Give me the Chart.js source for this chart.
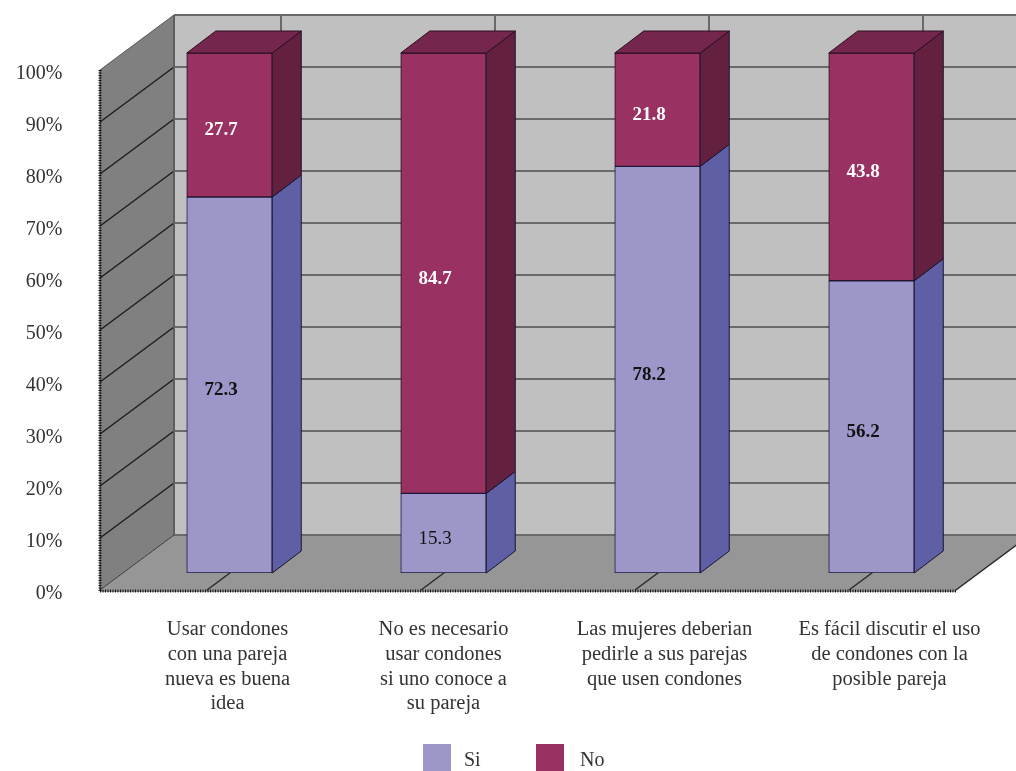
<!DOCTYPE html>
<html>
<head>
<meta charset="utf-8">
<title>Condones</title>
<script src="https://cdn.jsdelivr.net/npm/chart.js@4"></script>
<style>
  body { margin: 0; background: #fff; }
  canvas { display: block; }
</style>
</head>
<body>
<canvas id="chart" width="1016" height="771"></canvas>
<script>
var categories = [
  ["Usar condones", "con una pareja", "nueva es buena", "idea"],
  ["No es necesario", "usar condones", "si uno conoce a", "su pareja"],
  ["Las mujeres deberian", "pedirle a sus parejas", "que usen condones"],
  ["Es fácil discutir el uso", "de condones con la", "posible pareja"]
];
var si = [72.3, 15.3, 78.2, 56.2];
var no = [27.7, 84.7, 21.8, 43.8];
var yTicks = ["0%", "10%", "20%", "30%", "40%", "50%", "60%", "70%", "80%", "90%", "100%"];

// colours per series: front, side, top
var siColors = ["#9C97C8", "#5F5FA6", "#7C7AB8"];
var noColors = ["#993163", "#63203F", "#75264C"];

// the box is drawn on the bars' plane, the walls sit around it
var wallFront = { x: -22.5, y: 17 };
var wallBack = { x: 51.5, y: -38 };
var barDepth = { x: 29, y: -22 };
var labelShift = [-2, 0, 7, 18];
var serif = "'Liberation Serif', serif";

function poly(ctx, pts, fill, stroke, width) {
  ctx.beginPath();
  ctx.moveTo(pts[0][0], pts[0][1]);
  for (var i = 1; i < pts.length; i++) ctx.lineTo(pts[i][0], pts[i][1]);
  ctx.closePath();
  if (fill) { ctx.fillStyle = fill; ctx.fill(); }
  if (stroke) { ctx.strokeStyle = stroke; ctx.lineWidth = width || 1; ctx.stroke(); }
}

function line(ctx, x1, y1, x2, y2, color, width) {
  ctx.beginPath();
  ctx.moveTo(x1, y1);
  ctx.lineTo(x2, y2);
  ctx.strokeStyle = color;
  ctx.lineWidth = width;
  ctx.stroke();
}

// back wall, left wall, floor and their grid
var box3d = {
  id: "box3d",
  beforeDatasetsDraw: function(chart) {
    var ctx = chart.ctx, x = chart.scales.x, y = chart.scales.y;
    var left = x.left, right = x.right, top = y.getPixelForValue(100), bottom = y.getPixelForValue(0);
    var fx = wallFront.x, fy = wallFront.y, bx = wallBack.x, by = wallBack.y;
    ctx.save();
    poly(ctx, [[left + bx, top + by], [right + bx, top + by], [right + bx, bottom + by], [left + bx, bottom + by]], "#C0C0C0");
    poly(ctx, [[left + fx, top + fy], [left + bx, top + by], [left + bx, bottom + by], [left + fx, bottom + fy]], "#808080");
    poly(ctx, [[left + fx, bottom + fy], [left + bx, bottom + by], [right + bx, bottom + by], [right + fx, bottom + fy]], "#969696");

    yTicks.forEach(function(t, i) {
      var py = y.getPixelForValue(i * 10);
      line(ctx, left + bx, py + by, right + bx, py + by, "#6A6A6A", 2);
      if (i > 0 && i < yTicks.length - 1) line(ctx, left + fx, py + fy, left + bx, py + by, "#1E1E1E", 1.5);
    });
    categories.forEach(function(c, i) {
      var px = x.getPixelForTick(i);
      line(ctx, px + bx, top + by, px + bx, bottom + by, "#6A6A6A", 2);
      line(ctx, px + fx, bottom + fy, px + bx, bottom + by, "#2A2A2A", 1.5);
    });
    line(ctx, left + bx, top + by, left + bx, bottom + by, "#5E5E5E", 2);
    line(ctx, left + fx, bottom + fy, left + bx, bottom + by, "#3A3A3A", 1);
    line(ctx, left + fx, top + fy, left + bx, top + by, "#555555", 1);
    line(ctx, right + fx, bottom + fy, right + bx, bottom + by, "#2A2A2A", 1.5);

    // axis lines with their dense little ticks
    line(ctx, left + fx, top + fy, left + fx, bottom + fy + 1, "#222", 1);
    line(ctx, left + fx, bottom + fy + 1, right + fx, bottom + fy + 1, "#222", 1);
    ctx.setLineDash([1, 1.5]);
    line(ctx, left + fx, top + fy, left + fx, bottom + fy + 2, "#111", 3);
    line(ctx, left + fx, bottom + fy + 1, right + fx, bottom + fy + 1, "#111", 3);
    ctx.restore();
  },
  // side and top faces of every bar segment
  afterDatasetsDraw: function(chart) {
    var ctx = chart.ctx;
    var dx = barDepth.x, dy = barDepth.y;
    ctx.save();
    ctx.lineJoin = "round";
    chart.data.datasets.forEach(function(ds, d) {
      var colors = d === 0 ? siColors : noColors;
      chart.getDatasetMeta(d).data.forEach(function(bar) {
        var r = bar.x + bar.width / 2, l = bar.x - bar.width / 2;
        poly(ctx, [[r, bar.y], [r + dx, bar.y + dy], [r + dx, bar.base + dy], [r, bar.base]], colors[1], "#1A1530", 1);
        if (d === chart.data.datasets.length - 1) {
          poly(ctx, [[l, bar.y], [l + dx, bar.y + dy], [r + dx, bar.y + dy], [r, bar.y]], colors[2], "#2A1020", 1);
        }
      });
    });
    ctx.restore();
  },
  afterDraw: function(chart) {
    var ctx = chart.ctx, x = chart.scales.x;
    ctx.save();

    // values on the bars
    ctx.textAlign = "center";
    ctx.textBaseline = "middle";
    chart.data.datasets.forEach(function(ds, d) {
      chart.getDatasetMeta(d).data.forEach(function(bar, i) {
        var plain = ds.data[i] < 20;
        ctx.font = (plain ? "" : "bold ") + "19px " + serif;
        ctx.fillStyle = d === 1 ? "#FFFFFF" : "#111111";
        ctx.fillText(ds.data[i].toFixed(1), bar.x - 8.5, (bar.y + bar.base) / 2 + 5.5);
      });
    });

    // category labels
    ctx.font = "20.5px " + serif;
    ctx.fillStyle = "#333333";
    categories.forEach(function(lines, i) {
      lines.forEach(function(text, n) {
        ctx.fillText(text, x.getPixelForTick(i) + labelShift[i], 630 + n * 24.6);
      });
    });

    // legend along the bottom edge
    ctx.font = "20px " + serif;
    chart.data.datasets.forEach(function(ds, d) {
      var lx = 423 + d * 113;
      ctx.fillStyle = ds.backgroundColor;
      ctx.fillRect(lx, 744, 28, 27);
      ctx.fillStyle = "#333333";
      ctx.textAlign = "left";
      ctx.fillText(ds.label, lx + 41 + d * 3, 761);
    });
    ctx.restore();
  }
};

new Chart(document.getElementById("chart"), {
  type: "bar",
  data: {
    labels: categories,
    datasets: [
      { label: "Si", data: si, backgroundColor: siColors[0], borderColor: "#1A1A40", borderWidth: 1, borderSkipped: false },
      { label: "No", data: no, backgroundColor: noColors[0], borderColor: "#2A1020", borderWidth: 1, borderSkipped: false }
    ]
  },
  options: {
    responsive: false,
    animation: false,
    layout: { padding: { top: 53, right: 37.5, left: 0, bottom: 0 } },
    plugins: { legend: { display: false }, tooltip: { enabled: false } },
    datasets: { bar: { barThickness: 85.5 } },
    scales: {
      x: {
        stacked: true,
        grid: { display: false },
        border: { display: false },
        ticks: { display: false },
        afterFit: function(scale) { scale.height = 198; }
      },
      y: {
        stacked: true,
        min: 0,
        max: 100,
        grid: { display: false },
        border: { display: false },
        ticks: {
          stepSize: 10,
          padding: 52,
          labelOffset: 21,
          color: "#333333",
          font: { family: serif, size: 20 },
          callback: function(v) { return yTicks[v / 10]; }
        },
        afterFit: function(scale) {
          scale.width = 122.5;
          scale.paddingTop = 0;
          scale.paddingBottom = 0;
        }
      }
    }
  },
  plugins: [box3d]
});
</script>
</body>
</html>
